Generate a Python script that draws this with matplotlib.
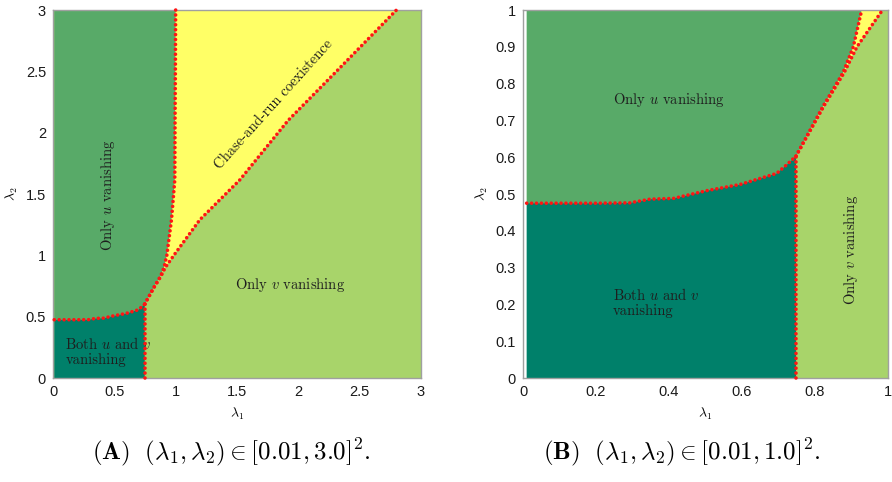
import matplotlib
matplotlib.use('Agg')
import matplotlib.pyplot as plt
import numpy as np
from matplotlib.ticker import FuncFormatter

plt.rcParams['mathtext.fontset'] = 'cm'
plt.rcParams['font.family'] = ['Liberation Sans', 'DejaVu Sans']

# boundary between "both vanishing" and "only u vanishing": lambda2 as a function of lambda1
low_l1 = [0.01, 0.10, 0.20, 0.293, 0.348, 0.412, 0.503, 0.595, 0.695, 0.722, 0.748]
low_l2 = [0.475, 0.475, 0.475, 0.476, 0.486, 0.488, 0.509, 0.526, 0.556, 0.579, 0.603]

# coexistence region: left and right edges (lambda1) as functions of lambda2
coex_l2 = [0.603, 0.74, 0.83, 0.90, 1.0, 1.29, 1.615, 2.10, 2.55, 3.0]
coex_left = [0.748, 0.823, 0.877, 0.905, 0.928, 0.966, 0.993, 0.995, 0.998, 1.0]
coex_right = [0.748, 0.825, 0.880, 0.915, 0.985, 1.197, 1.523, 1.917, 2.36, 2.80]

vert_l1 = 0.748  # boundary between "both vanishing" and "only v vanishing"

C_BOTH = '#00806a'
C_U = '#58aa68'
C_V = '#a8d46a'
C_COEX = '#ffff66'
C_LINE = '#ff1414'
C_TXT = '#1e1e1e'

panels = [
    dict(lim=3.0, ticks=[0, 0.5, 1, 1.5, 2, 2.5, 3],
         yticks=[0, 0.5, 1, 1.5, 2, 2.5, 3], cap='A', rng='3.0'),
    dict(lim=1.0, ticks=[0, 0.2, 0.4, 0.6, 0.8, 1],
         yticks=[0, 0.1, 0.2, 0.3, 0.4, 0.5, 0.6, 0.7, 0.8, 0.9, 1], cap='B', rng='1.0'),
]


def draw_panel(ax, p):
    lim = p['lim']
    top = 3.0
    ax.set_xlim(0, lim)
    ax.set_ylim(0, lim)
    # background: only v vanishing
    ax.fill([0.01, lim, lim, 0.01], [0, 0, lim, lim], color=C_V, lw=0, zorder=1)
    # only u vanishing
    ux = list(low_l1) + coex_left[1:] + [0.01]
    uy = list(low_l2) + coex_l2[1:] + [top]
    ax.fill(ux, uy, color=C_U, lw=0, zorder=2)
    # both vanishing
    bx = list(low_l1) + [vert_l1, 0.01]
    by = list(low_l2) + [0, 0]
    both = ax.fill(bx, by, color=C_BOTH, lw=0, zorder=2)[0]
    # coexistence
    cx = list(coex_left) + coex_right[::-1]
    cy = list(coex_l2) + coex_l2[::-1]
    ax.fill(cx, cy, color=C_COEX, lw=0, zorder=2)

    dots = dict(color=C_LINE, lw=2.6, linestyle=(0, (0.01, 1.35)),
                dash_capstyle='round', zorder=5, clip_on=False)
    ax.plot(low_l1, low_l2, **dots)
    ax.plot([vert_l1, vert_l1], [0, low_l2[-1]], **dots)
    i = [k for k, v in enumerate(coex_l2) if v <= lim + 1e-9]
    # clip the curves at the top of the panel
    for xs in (coex_left, coex_right):
        yy = list(coex_l2)
        xx = list(xs)
        if lim < top:
            xe = np.interp(lim, coex_l2, xs)
            yy = [coex_l2[k] for k in i] + [lim]
            xx = [xs[k] for k in i] + [xe]
        ax.plot(xx, yy, **dots)

    ax.set_xticks(p['ticks'])
    ax.set_yticks(p['yticks'])
    fmt = FuncFormatter(lambda v, q: '%g' % v)
    ax.xaxis.set_major_formatter(fmt)
    ax.yaxis.set_major_formatter(fmt)
    ax.tick_params(length=0, labelsize=10.5, colors='#1a1a1a', pad=5)
    for s in ax.spines.values():
        s.set_color('#a0a0a0')
        s.set_linewidth(1.0)
    ax.set_xlabel(r'$\lambda_1$', fontsize=10, labelpad=5)
    ax.set_ylabel(r'$\lambda_2$', fontsize=10, labelpad=4)
    return both


fig = plt.figure(figsize=(8.92, 4.82), dpi=100)
axA = fig.add_axes([53 / 892, 104 / 482, 368 / 892, 368 / 482])
axB = fig.add_axes([523 / 892, 104 / 482, 365 / 892, 368 / 482])

bothA = draw_panel(axA, panels[0])
bothB = draw_panel(axB, panels[1])

tk = dict(fontfamily='cmr10', color=C_TXT, zorder=4)
axA.text(0.45, 1.49, r'Only $u$ vanishing', rotation=90, ha='center', va='center', fontsize=10.5, **tk)
t = axA.text(0.1, 0.215, 'Both $u$ and $v$\nvanishing', ha='left', va='center', fontsize=10.5,
             linespacing=1.15, **tk)
t.set_clip_path(bothA)
axA.text(1.93, 0.76, r'Only $v$ vanishing', ha='center', va='center', fontsize=10.5, **tk)
axA.text(1.80, 2.23, 'Chase-and-run coexistence', rotation=48, ha='center', va='center',
         fontsize=10.5, rotation_mode='anchor', **tk)

axB.text(0.246, 0.755, r'Only $u$ vanishing', ha='left', va='center', fontsize=10.5, **tk)
axB.text(0.246, 0.205, 'Both $u$ and $v$\nvanishing', ha='left', va='center', fontsize=10.5,
         linespacing=1.15, **tk)
axB.text(0.90, 0.348, r'Only $v$ vanishing', rotation=90, ha='center', va='center', fontsize=10.5, **tk)

for p, xc in zip(panels, [231 / 892, 682 / 892]):
    fig.text(xc, 30 / 482,
             r'$\mathbf{(%s)}\ \ (\lambda_1, \lambda_2) \in [0.01, %s]^2.$' % (p['cap'], p['rng']),
             ha='center', va='center', fontsize=18, color='black')

fig.savefig('out.png', dpi=100)
